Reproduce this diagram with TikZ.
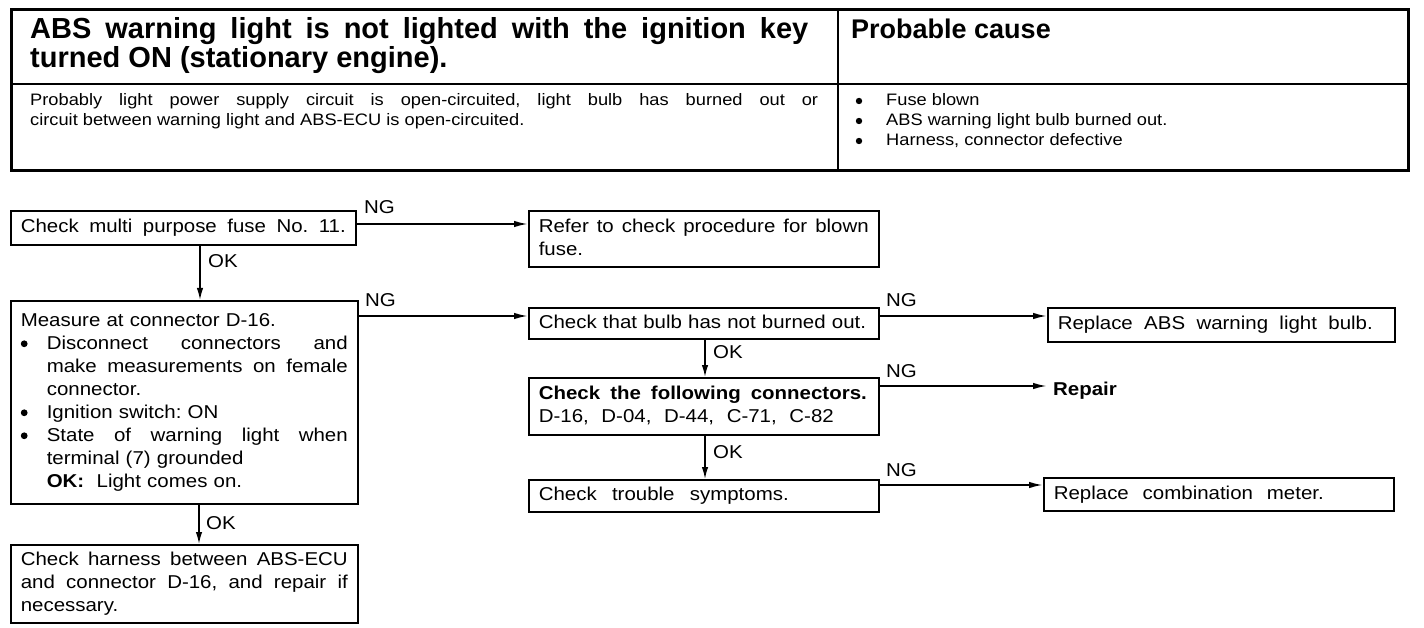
\documentclass[tikz,border=0pt]{standalone}
\usepackage{fontspec}
\setmainfont{Liberation Sans}[FakeStretch=1.1]
\newfontfamily\hdrfont{Liberation Sans}
\usetikzlibrary{arrows.meta}
\frenchspacing
\newcommand\flowfont{\fontsize{18.6}{23}\selectfont}
\newcommand\tabfont{\fontsize{16.6}{20}\selectfont}
\newcommand\headfont{\hdrfont\bfseries\fontsize{29}{29}\selectfont}
\newcommand\jl[2]{\makebox[#1][s]{\spaceskip=0pt\xspaceskip=0pt #2}}
\newcommand\bul{\tikz[baseline=0pt,x=1pt,y=1pt]\fill (3.4,5.6) circle[radius=3.4pt];}
\begin{document}
\begin{tikzpicture}[x=1pt,y=-1pt,
  box/.style={draw, line width=1.6pt, anchor=north west, inner xsep=10pt, inner ysep=0pt,
    align=left, font=\flowfont,
    execute at begin node={\vphantom{Ag}}, execute at end node={\vphantom{Ag}}},
  arr/.style={line width=1.8pt, -{Latex[length=14pt,width=6.5pt]}},
  varr/.style={line width=1.5pt, -{Latex[length=12pt,width=6.5pt]}},
  lbl/.style={anchor=base west, inner sep=0pt, font=\flowfont},
  tabtxt/.style={anchor=base west, inner sep=0pt, font=\tabfont},
  hdr/.style={anchor=base west, inner sep=0pt, font=\headfont}]
\fill[white] (0,0) rectangle (1424,628);
\useasboundingbox (0,0) rectangle (1424,628);

% ---------- table ----------
\draw[line width=3pt] (11,10) rectangle (1408,171);
\draw[line width=2pt] (11,84) -- (1408,84);
\draw[line width=1.5pt] (838,10) -- (838,171);
\node[hdr] (h1) at (30,39) {\jl{778pt}{ABS warning light is not lighted with the ignition key}};
\node[hdr] (h2) at (30,68) {turned ON (stationary engine).};
\node[hdr, font=\hdrfont\bfseries\fontsize{27}{27}\selectfont] (pc) at (851,39) {Probable cause};
\node[tabtxt] (b1) at (30,106) {\jl{788pt}{Probably light power supply circuit is open-circuited, light bulb has burned out or}};
\node[tabtxt] (b2) at (30,126) {circuit between warning light and ABS-ECU is open-circuited.};
\fill (859,101) circle[radius=3.2pt];
\fill (859,121) circle[radius=3.2pt];
\fill (859,141) circle[radius=3.2pt];
\node[tabtxt] (c1t) at (886,106) {Fuse blown};
\node[tabtxt] (c2t) at (886,126) {ABS warning light bulb burned out.};
\node[tabtxt] (c3t) at (886,146) {Harness, connector defective};

% ---------- flow boxes ----------
\node[box, text width=325pt, minimum height=34pt] (A) at (10,210)
  {\jl{\linewidth}{Check multi purpose fuse No. 11.}};
\node[box, text width=330pt, minimum height=56pt] (B) at (528,210)
  {\jl{\linewidth}{Refer to check procedure for blown}\\fuse.};
\node[box, text width=327pt, minimum height=203pt] (C) at (10,300)
  {Measure at connector D-16.\\
   \makebox[26pt][l]{\bul}\jl{301pt}{Disconnect connectors and}\\
   \hspace*{26pt}\jl{301pt}{make measurements on female}\\
   \hspace*{26pt}connector.\\
   \makebox[26pt][l]{\bul}Ignition switch: ON\\
   \makebox[26pt][l]{\bul}\jl{301pt}{State of warning light when}\\
   \hspace*{26pt}terminal (7) grounded\\
   \hspace*{26pt}\textbf{OK:}\ \ Light comes on.};
\node[box, text width=330pt, minimum height=31pt] (D) at (528,307)
  {Check that bulb has not burned out.};
\node[box, text width=327pt, minimum height=34pt] (E) at (1047,307)
  {\jl{315pt}{Replace ABS warning light bulb.}};
\node[box, text width=330pt, minimum height=57pt] (F) at (528,377)
  {\jl{328pt}{\textbf{Check the following connectors.}}\\
   \jl{295pt}{D-16, D-04, D-44, C-71, C-82}};
\node[anchor=base west, inner xsep=6pt, inner ysep=0pt, font=\flowfont\bfseries] (R) at (1047,395) {Repair};
\node[box, text width=330pt, minimum height=32pt] (H) at (528,479)
  {\jl{250pt}{Check trouble symptoms.}};
\node[box, text width=330pt, minimum height=33pt] (I) at (1043,477)
  {\jl{270pt}{Replace combination meter.}};
\node[box, text width=327pt, minimum height=78pt] (G) at (10,544)
  {\jl{\linewidth}{Check harness between ABS-ECU}\\
   \jl{\linewidth}{and connector D-16, and repair if}\\
   necessary.};

% ---------- connectors ----------
\draw[arr] (A.east |- 0,224) -- (B.west |- 0,224);
\draw[arr] (C.east |- 0,316) -- (D.west |- 0,316);
\draw[arr] (D.east |- 0,316) -- (E.west |- 0,316);
\draw[arr] (F.east |- 0,386) -- (R.west |- 0,386);
\draw[arr] (H.east |- 0,485) -- (I.west |- 0,485);
\draw[varr] (A.south -| 200,0) -- (C.north -| 200,0);
\draw[varr] (C.south -| 199,0) -- (G.north -| 199,0);
\draw[varr] (D.south -| 705,0) -- (F.north -| 705,0);
\draw[varr] (F.south -| 705,0) -- (H.north -| 705,0);

% ---------- labels ----------
\node[lbl] (ng1) at (364,214) {NG};
\node[lbl] (ng2) at (365,307) {NG};
\node[lbl] (ng3) at (886,307) {NG};
\node[lbl] (ng4) at (886,377) {NG};
\node[lbl] (ng5) at (886,476) {NG};
\node[lbl] (ok1) at (208,268) {OK};
\node[lbl] (ok2) at (713,358) {OK};
\node[lbl] (ok3) at (713,458) {OK};
\node[lbl] (ok4) at (206,529) {OK};
\end{tikzpicture}
\end{document}
